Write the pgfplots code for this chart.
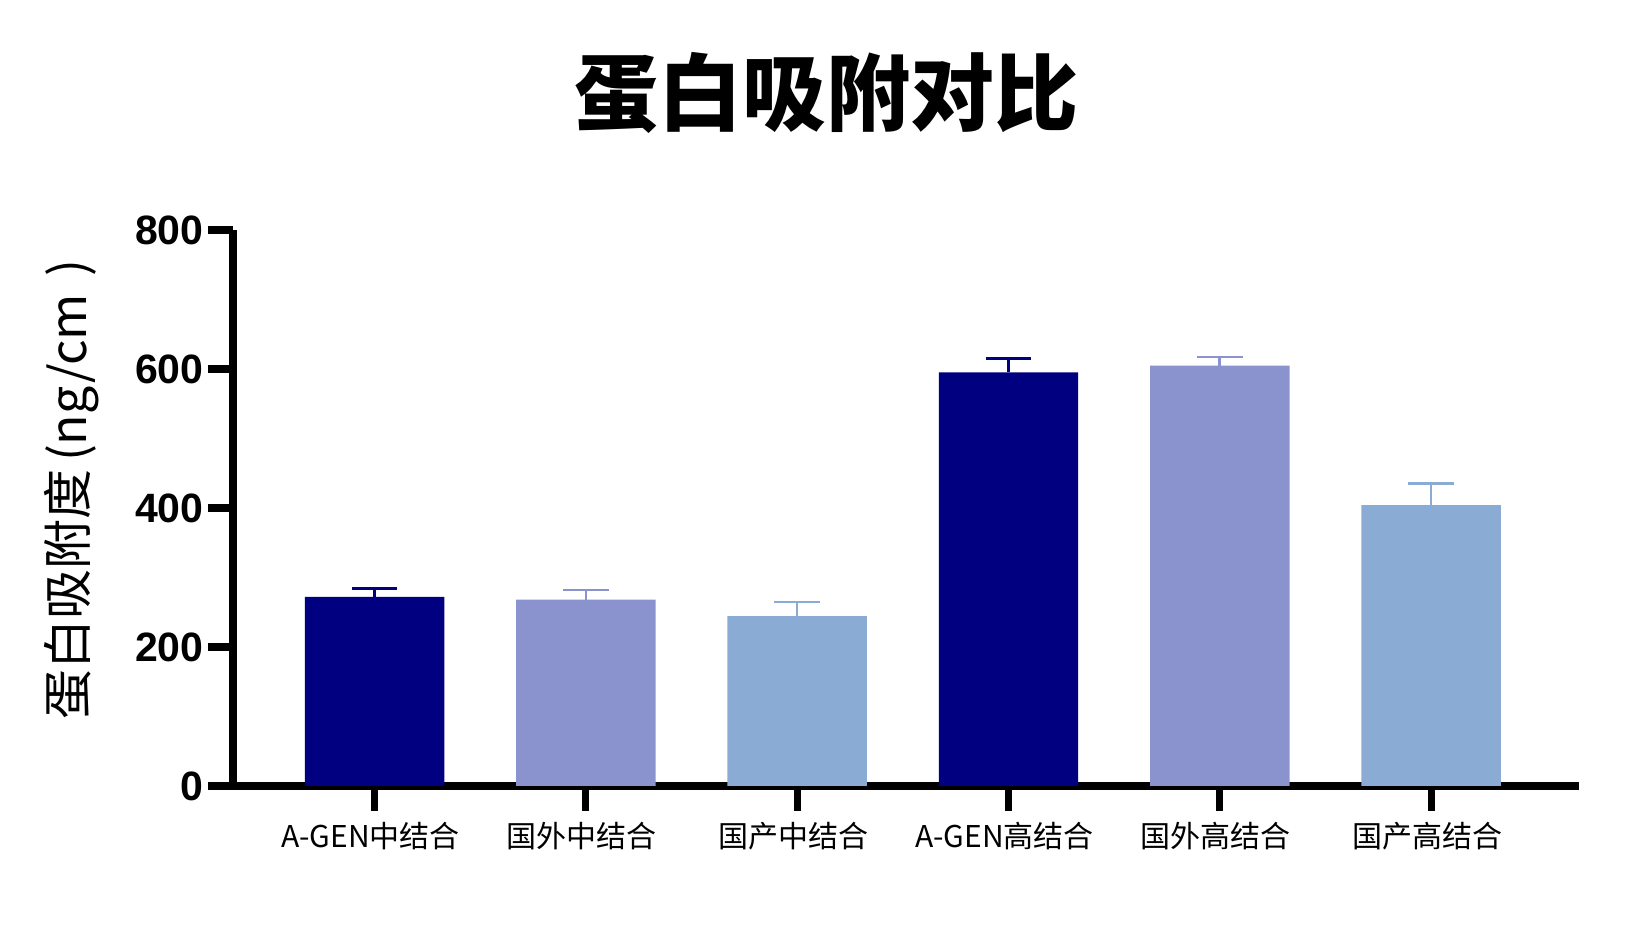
\documentclass[border=0pt]{standalone}
\usepackage{pgfplots}
\pgfplotsset{compat=1.18}
\usepackage{fontspec}
\setmainfont{Liberation Sans}
\newfontfamily\cjk{Noto Sans CJK SC}
\definecolor{cnavy}{RGB}{0,0,128}
\definecolor{cmid}{RGB}{139,147,206}
\definecolor{clight}{RGB}{138,171,212}
\begin{document}
\begin{tikzpicture}[x=1pt,y=1pt]
\useasboundingbox (0,0) rectangle (825.5,464.5);
\begin{axis}[
  at={(116.5pt,71.5pt)}, anchor=south west,
  scale only axis, width=673pt, height=278pt,
  xmin=-0.67, xmax=5.70, ymin=0, ymax=800,
  axis x line*=bottom, axis y line*=left,
  axis line style={line width=3.6pt, black},
  ytick={0,200,400,600,800}, xtick={0,1,2,3,4,5},
  xticklabels={A-GEN中结合,国外中结合,国产中结合,A-GEN高结合,国外高结合,国产高结合},
  tick style={line width=3.6pt, black}, major tick length=12.5pt, tick align=outside,
  yticklabel style={font=\bfseries\fontsize{20.5}{20.5}\selectfont, inner sep=2pt},
  xticklabel style={font=\cjk\fontsize{15}{15}\selectfont, yshift=-2pt, xshift=-2pt},
  /pgf/number format/assume math mode=true,
]
\addplot[ybar, bar width=0.66, bar shift=0pt, fill=cnavy, draw=none,
  error bars/.cd, y dir=plus, y explicit,
  error bar style={line width=1.3pt, cnavy},
  error mark options={rotate=90, mark size=11.4pt, line width=1.3pt, cnavy}]
  table[x=x, y=y, y error=e] {
x y e
0 272 12
3 595 20
};
\addplot[ybar, bar width=0.66, bar shift=0pt, fill=cmid, draw=none,
  error bars/.cd, y dir=plus, y explicit,
  error bar style={line width=1.3pt, cmid},
  error mark options={rotate=90, mark size=11.4pt, line width=1.3pt, cmid}]
  table[x=x, y=y, y error=e] {
x y e
1 268 14
4 605 12
};
\addplot[ybar, bar width=0.66, bar shift=0pt, fill=clight, draw=none,
  error bars/.cd, y dir=plus, y explicit,
  error bar style={line width=1.3pt, clight},
  error mark options={rotate=90, mark size=11.4pt, line width=1.3pt, clight}]
  table[x=x, y=y, y error=e] {
x y e
2 244.5 20
5 404 31
};
\end{axis}
\node[rotate=90, font=\cjk\fontsize{25}{25}\selectfont] at (35.8,219.7) {蛋白吸附度\hspace{4pt}(ng/cm\hspace{9pt})};
\node[font=\cjk\bfseries\fontsize{42}{42}\selectfont] at (413.3,418.2) {蛋白吸附对比};
\end{tikzpicture}
\end{document}
